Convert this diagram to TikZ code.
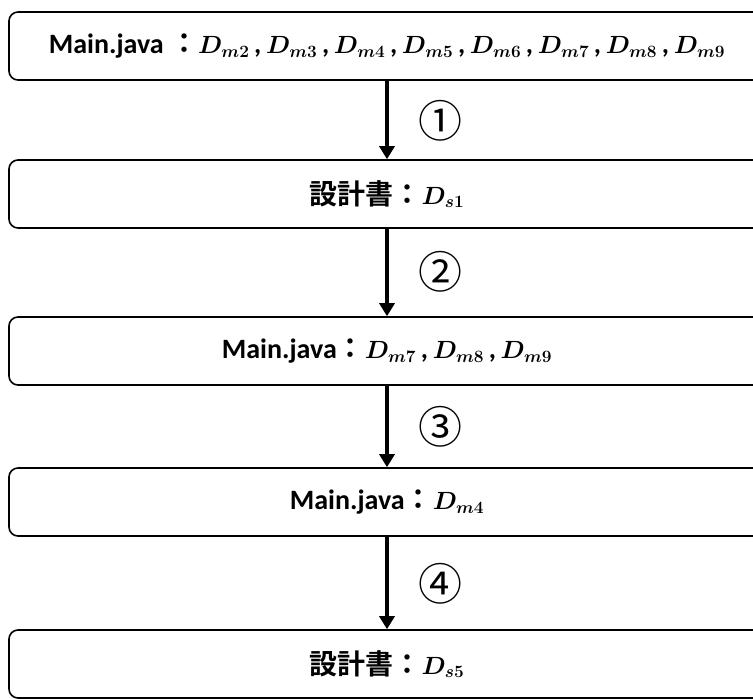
\documentclass[tikz,border=0pt]{standalone}
\usepackage{amsmath,bm}
\usepackage{fontspec}
\setmainfont{Carlito}
\newfontfamily\jp{Noto Sans CJK JP}[BoldFont=Noto Sans CJK JP Bold]
\usetikzlibrary{arrows.meta}
\newcommand{\bigtxt}{\fontsize{28}{30}\selectfont}
\newcommand{\mj}{{\bfseries Main.java}}
\newcommand{\jcolon}{{\jp\bfseries ：}}
\newcommand{\sk}{{\jp\bfseries 設計書：}}
\newcommand{\DD}[1]{{\fontsize{26}{28}\selectfont$\bm{D_{#1}}$}}
\newcommand{\cm}{\,\textbf{,}\,}
\begin{document}
\begin{tikzpicture}[x=1pt,y=-1pt,
  box/.style={draw,line width=1.6pt,rounded corners=9pt,minimum width=756pt,minimum height=68pt,inner sep=0pt},
  flow/.style={line width=3.5pt,-{Triangle[width=15pt,length=13pt]}},
  num/.style={inner sep=0pt,font=\jp\fontsize{44}{44}\selectfont}]
\useasboundingbox (0,0) rectangle (753,699);
\clip (0,0) rectangle (753,699);
\node[box] (b1) at (387,46) {\bigtxt\mj\ \jcolon \DD{m2}\cm\DD{m3}\cm\DD{m4}\cm\DD{m5}\cm\DD{m6}\cm\DD{m7}\cm\DD{m8}\cm\DD{m9}};
\node[box] (b2) at (387,194) {\bigtxt\sk\DD{s1}};
\node[box] (b3) at (387,351) {\bigtxt\mj\jcolon\DD{m7}\cm\DD{m8}\cm\DD{m9}};
\node[box] (b4) at (387,502) {\bigtxt\mj\jcolon\DD{m4}};
\node[box] (b5) at (387,664) {\bigtxt\sk\DD{s5}};
\draw[flow] (b1.south) -- (b2.north);
\draw[flow] (b2.south) -- (b3.north);
\draw[flow] (b3.south) -- (b4.north);
\draw[flow] (b4.south) -- (b5.north);
\node[num] (n1) at (440,121) {①};
\node[num] (n2) at (440,272) {②};
\node[num] (n3) at (440,427) {③};
\node[num] (n4) at (440,584) {④};
\end{tikzpicture}
\end{document}
